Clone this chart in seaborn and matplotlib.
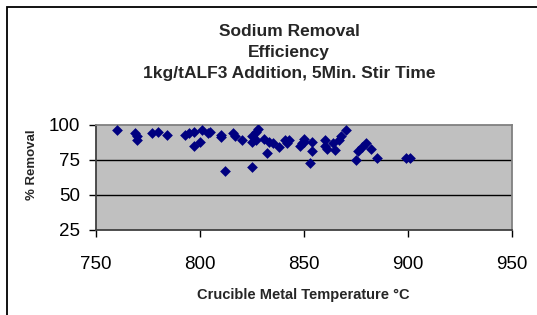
import numpy as np
import pandas as pd
import seaborn as sns
import matplotlib.pyplot as plt
from matplotlib.patches import Rectangle

## Data
temperature = [760, 769, 770, 770, 777, 780, 784, 793, 795, 797, 801, 804, 800, 797,
               805, 810, 810, 812, 816, 817, 820, 825, 825, 825, 827, 828, 827, 831,
               832, 833, 835, 838, 841, 842, 843, 848, 849, 850, 850, 854, 854, 853,
               860, 860, 861, 864, 865, 867, 868, 870, 875, 876, 878, 880, 882, 885,
               899, 901]
removal = [96, 94, 92, 89, 94, 95, 93, 93, 94, 95, 96, 94, 88, 85,
           95, 93, 91, 67, 94, 92, 89, 92, 88, 70, 95, 97, 89, 90,
           80, 88, 87, 84, 89, 87, 89, 85, 87, 90, 88, 88, 81, 73,
           89, 85, 83, 87, 82, 89, 92, 96, 75, 81, 84, 87, 83, 76,
           76, 76]
xticks = [750, 800, 850, 900, 950]
yticks = [25, 50, 75, 100]

df = pd.DataFrame({'temp': temperature, 'removal': removal})

sns.set_theme(style='white')
plt.rcParams['font.family'] = ['Liberation Sans', 'DejaVu Sans']

fig = plt.figure(figsize=(5.37, 3.15), dpi=100)
ax = fig.add_axes([95.7 / 537, 85 / 315, 416.6 / 537, 105.3 / 315])
ax.set_facecolor('#C0C0C0')

sns.scatterplot(data=df, x='temp', y='removal', marker='D', s=30,
                color='#000080', edgecolor='#000080', linewidth=0, ax=ax, zorder=3)

ax.set_xlim(750, 950)
ax.set_ylim(25, 100)
ax.set_xticks(xticks)
ax.set_yticks(yticks)
for v in yticks[1:3]:
    ax.axhline(v, color='black', lw=1, zorder=1)

for s in ['top', 'right']:
    ax.spines[s].set_color('#808080')
    ax.spines[s].set_linewidth(1.3)
for s in ['left', 'bottom']:
    ax.spines[s].set_color('#404040')
    ax.spines[s].set_linewidth(1.3)

ax.tick_params(axis='both', direction='out', length=5, width=1, color='black',
               labelsize=13.5, labelcolor='black')
ax.tick_params(axis='x', pad=14, bottom=True)
ax.tick_params(axis='y', pad=6, left=True)
ax.set_xlabel('')
ax.set_ylabel('')

## Titles and axis labels
fig.text(289 / 537, 1 - 31 / 315, 'Sodium Removal', ha='center', va='center',
         fontsize=12.5, fontweight='bold')
fig.text(289 / 537, 1 - 52 / 315, 'Efficiency', ha='center', va='center',
         fontsize=12.5, fontweight='bold')
fig.text(289 / 537, 1 - 73 / 315, '1kg/tALF3 Addition, 5Min. Stir Time',
         ha='center', va='center', fontsize=12.5, fontweight='bold')
fig.text(303 / 537, 1 - 295 / 315, 'Crucible Metal Temperature °C', ha='center',
         va='center', fontsize=10.5, fontweight='bold')
fig.text(32 / 537, 1 - 165 / 315, '% Removal', ha='center', va='center',
         rotation=90, fontsize=9.5, fontweight='bold')

## Chart frame
fig.add_artist(Rectangle((7 / 537, -0.1), 1.2, 1.1 - 7 / 315, transform=fig.transFigure,
                         fill=False, edgecolor='black', lw=1.3))

fig.savefig('out.png', dpi=100)
